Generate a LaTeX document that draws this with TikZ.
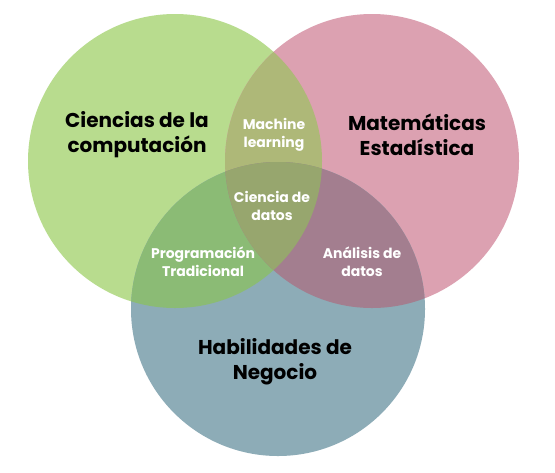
\documentclass[tikz,border=0pt]{standalone}
\usepackage{fontspec}
\setmainfont{Poppins}
\usepackage{tikz}

\definecolor{compGreen}{HTML}{B8DC8E}
\definecolor{mathPink}{HTML}{DCA1B1}
\definecolor{bizBlue}{HTML}{8DACB7}
\definecolor{mlOlive}{HTML}{AEB878}
\definecolor{progGreen}{HTML}{8BBB75}
\definecolor{anaMauve}{HTML}{A37E8F}
\definecolor{dsCenter}{HTML}{97A66E}

\tikzset{
  bigLabel/.style={inner sep=0.75pt, align=center, text=black, font=\bfseries\fontsize{15}{18.75}\selectfont},
  smallLabel/.style={inner sep=0.75pt, align=center, text=white, font=\bfseries\fontsize{10.5}{13.5}\selectfont}
}

\begin{document}
\begin{tikzpicture}[x=0.75pt,y=0.75pt,yscale=-1,xscale=1]
%set diagram left start at 0, and has height of 472
\path[fill=white] (0,0) rectangle (555,472);

%Shape: Circle [Ciencias de la computacion]
\fill [compGreen] (175,161) circle [radius=147];
%Shape: Circle [Matematicas]
\fill [mathPink] (372,161) circle [radius=147];
%Shape: Circle [Habilidades de Negocio]
\fill [bizBlue] (278,309) circle [radius=147];

%Overlap: green and pink
\begin{scope}
\clip (175,161) circle [radius=147];
\fill [mlOlive] (372,161) circle [radius=147];
\end{scope}
%Overlap: green and blue
\begin{scope}
\clip (175,161) circle [radius=147];
\fill [progGreen] (278,309) circle [radius=147];
\end{scope}
%Overlap: pink and blue
\begin{scope}
\clip (372,161) circle [radius=147];
\fill [anaMauve] (278,309) circle [radius=147];
\end{scope}
%Overlap: all three
\begin{scope}
\clip (175,161) circle [radius=147];
\clip (372,161) circle [radius=147];
\fill [dsCenter] (278,309) circle [radius=147];
\end{scope}

% Text Node
\draw (137,134.5) node (compu) [bigLabel] {Ciencias de la\\computación};
% Text Node
\draw (417,134.5) node (mates) [bigLabel] {Matemáticas\\Estadística};
% Text Node
\draw (275,361.5) node (negocio) [bigLabel] {Habilidades de\\Negocio};
% Text Node
\draw (274,135) node (ml) [smallLabel] {Machine\\learning};
% Text Node
\draw (272,206) node (datasci) [smallLabel] {Ciencia de\\datos};
% Text Node
\draw (203,262) node (prog) [smallLabel] {Programación\\Tradicional};
% Text Node
\draw (362,262) node (analisis) [smallLabel] {Análisis de\\datos};

\end{tikzpicture}
\end{document}
